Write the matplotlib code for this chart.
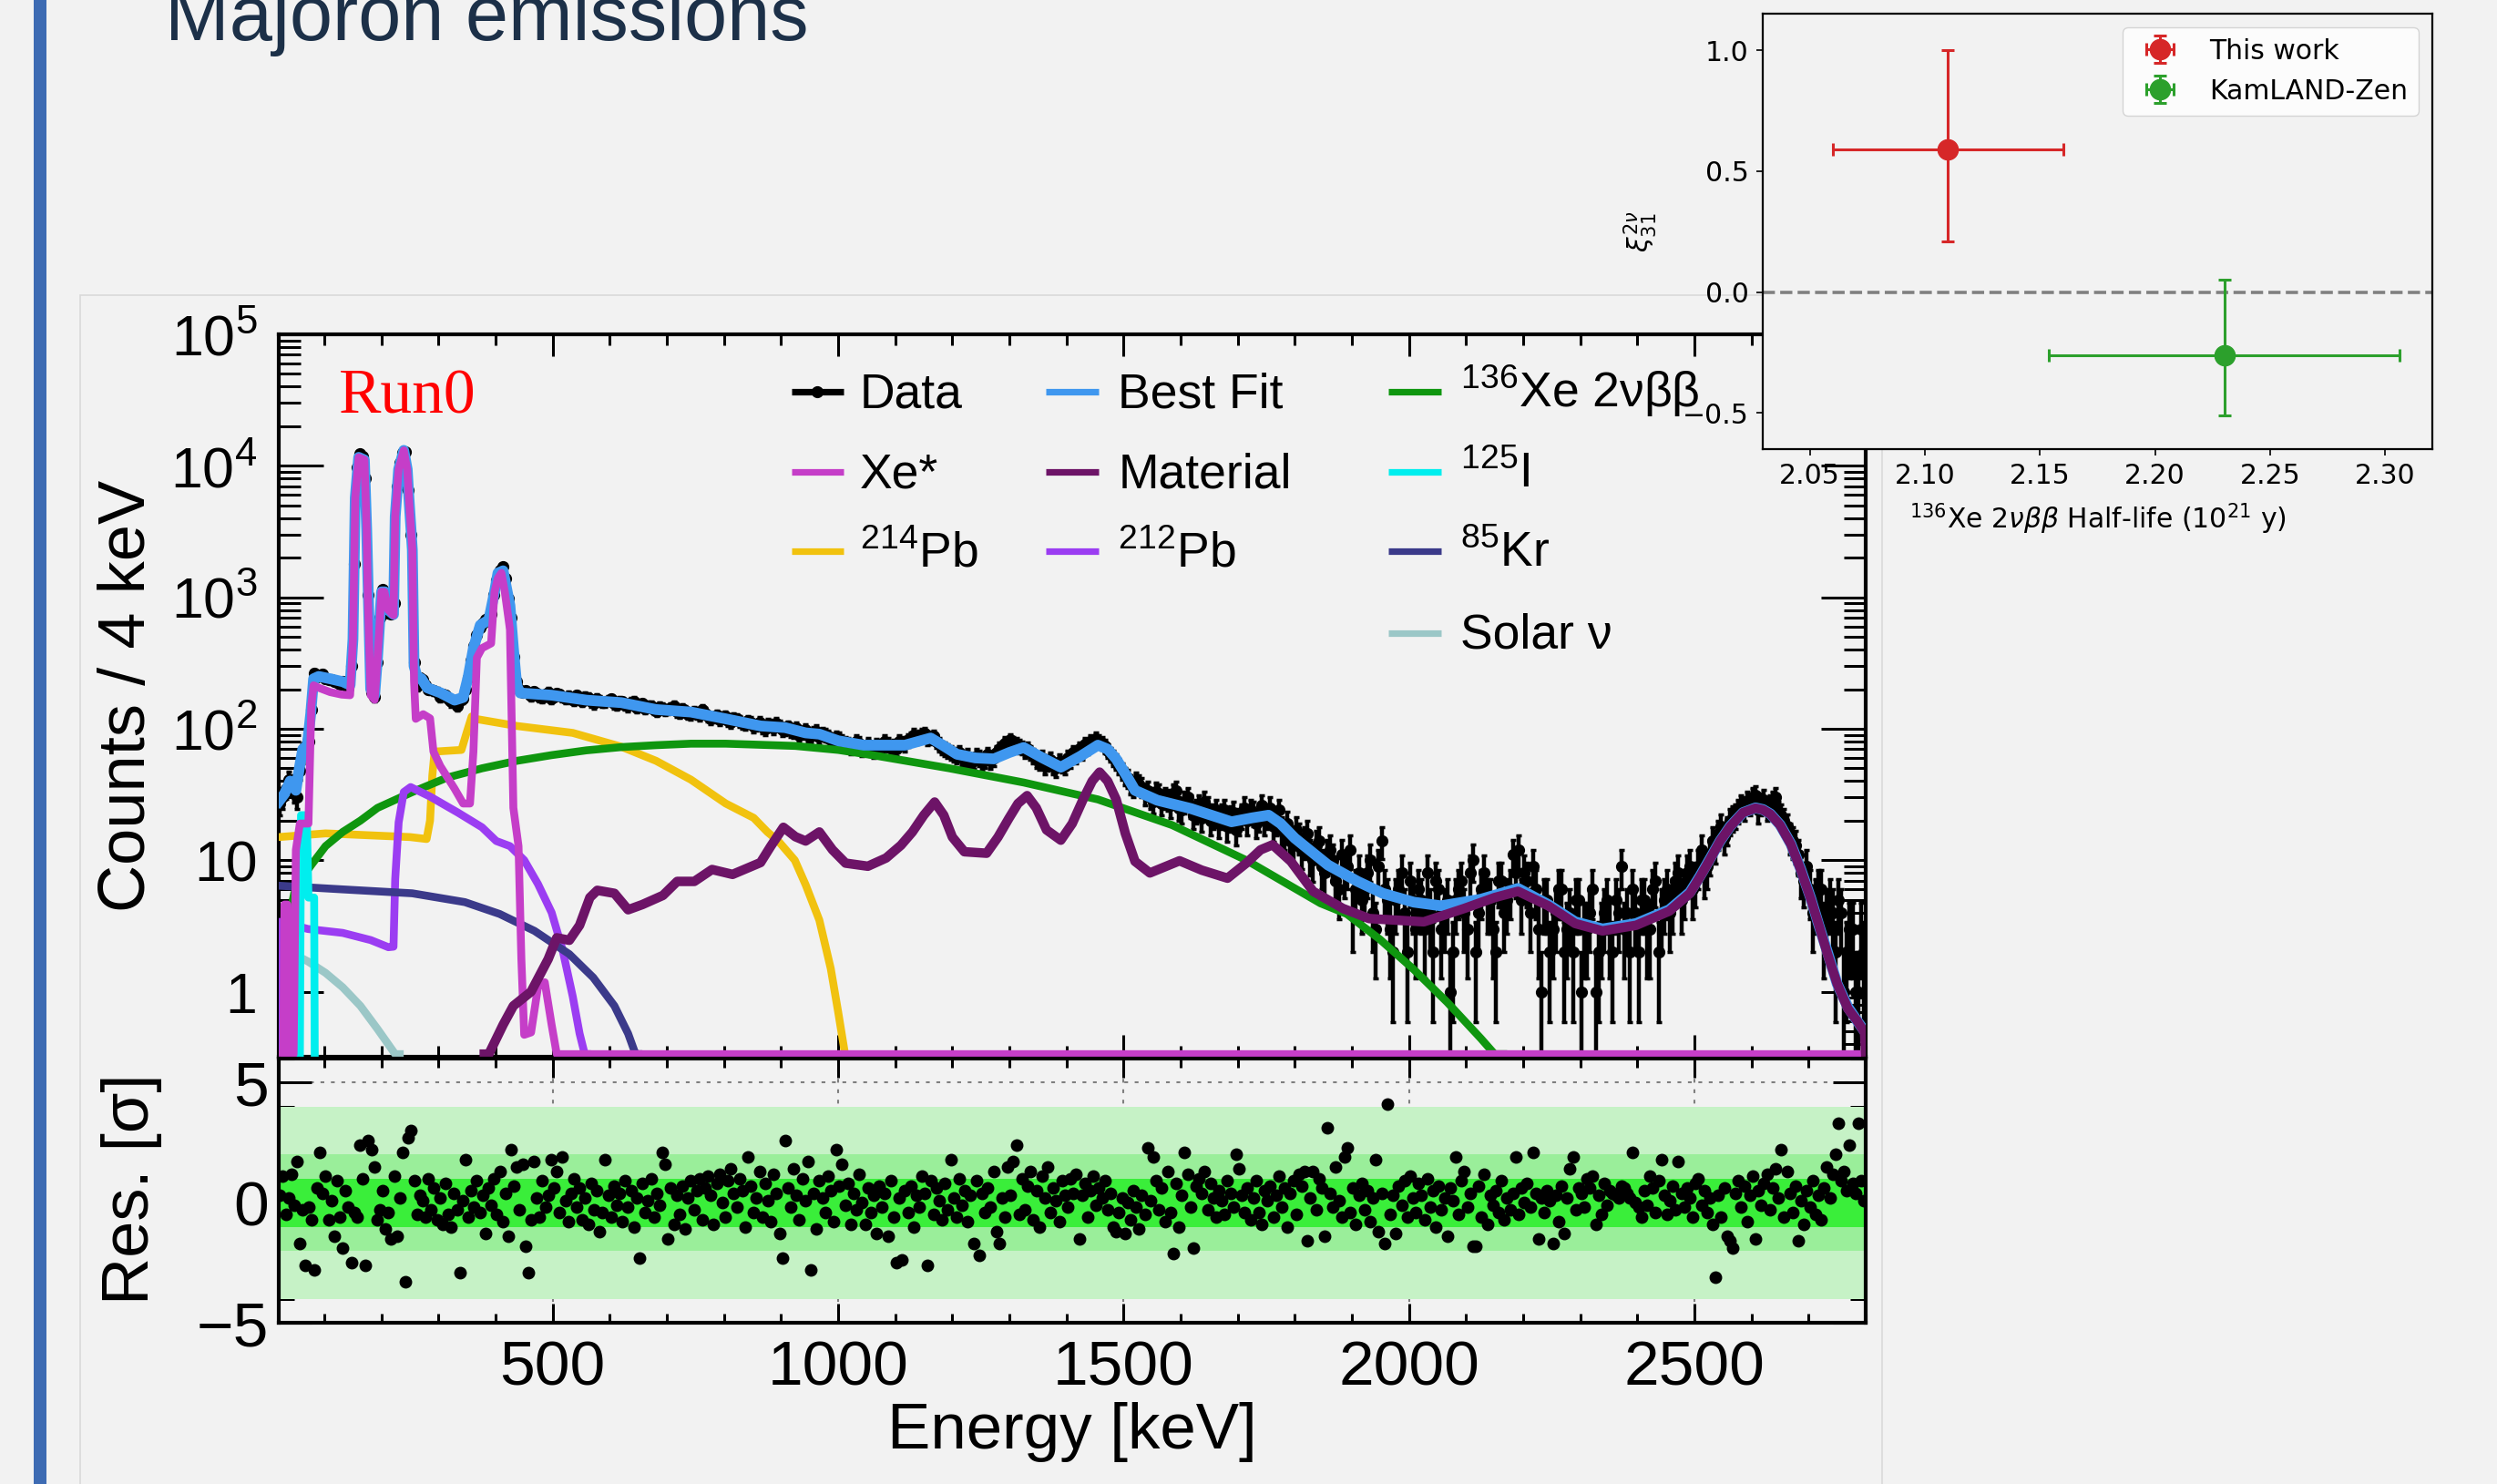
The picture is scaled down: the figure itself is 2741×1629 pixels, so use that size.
import numpy as np
import matplotlib
matplotlib.use("Agg")
import matplotlib.pyplot as plt
from matplotlib.patches import Rectangle
from matplotlib.ticker import (FixedLocator, FixedFormatter, MultipleLocator,
                               LogLocator, NullFormatter)

plt.rcParams['font.family'] = ['Liberation Sans', 'DejaVu Sans']
plt.rcParams['mathtext.fontset'] = 'custom'
plt.rcParams['mathtext.rm'] = 'Liberation Sans'
plt.rcParams['mathtext.it'] = 'Liberation Sans:italic'
plt.rcParams['mathtext.bf'] = 'Liberation Sans:bold'

W, H = 2741, 1629
BG = '#f2f2f2'
FLOOR = 0.335          # ROOT draws empty bins along the bottom of the pad

# ---------- spectrum (Run0): counts / 4 keV ----------
# bins at 22, 32, 42, ... keV
data_counts = [
    27, 35, 38, 30, 62, 80, 265, 255, 240, 235,
    225, 228, 205, 1800, 12400, 8000, 190, 320, 1150, 760,
    900, 10500, 12800, 3000, 210, 235, 200, 195, 175, 180,
    160, 150, 170, 245, 430, 590, 680, 750, 1350, 1720,
    980, 350, 200, 195, 178, 185, 172, 190, 176, 183,
    170, 168, 180, 162, 172, 155, 165, 160, 168, 152,
    160, 148, 162, 150, 142, 150, 136, 145, 140, 150,
    132, 138, 128, 130, 140, 125, 122, 118, 125, 112,
    119, 110, 115, 104, 112, 100, 106, 110, 98, 104,
    95, 90, 99, 88, 96, 92, 88, 80, 84, 78,
    72, 80, 70, 76, 68, 74, 80, 72, 70, 78,
    82, 90, 88, 92, 86, 80, 72, 68, 64, 66,
    58, 54, 62, 55, 64, 60, 70, 78, 82, 76,
    72, 70, 62, 56, 52, 58, 50, 54, 60, 66,
    70, 76, 80, 84, 78, 68, 60, 52, 44, 38,
    40, 36, 34, 28, 32, 30, 26, 34, 24, 30,
    22, 26, 28, 20, 24, 22, 18, 23, 20, 25,
    24, 19, 26, 22, 18, 24, 16, 14, 17, 12,
    16, 10, 14, 8, 12, 7, 11, 9, 4, 8,
    6, 10, 3, 14, 5, 2, 6, 4, 7, 3,
    5, 8, 2, 6, 4, 1, 5, 7, 3, 10,
    4, 8, 5, 2, 7, 5, 11, 12, 8, 4,
    6, 1, 5, 3, 6, 2, 4, 5, 1, 3,
    6, 2, 4, 3, 5, 9, 4, 6, 2, 5,
    3, 7, 4, 6, 5, 8, 6, 9, 7, 12,
    9, 14, 16, 15, 20, 22, 26, 28, 30, 24,
    29, 26, 30, 22, 18, 14, 11, 7, 6, 5,
    6, 4, 4, 5, 1, 3, 1, 3,
]
# bins at 27, 37, 47, ... keV
data_counts_odd = [
    30, 41, 33, 48, 74, 140, 250, 262, 238, 230,
    220, 215, 300, 9800, 11800, 1050, 175, 700, 1080, 750,
    7000, 12500, 6500, 320, 245, 215, 198, 190, 182, 168,
    162, 165, 200, 330, 520, 640, 700, 1050, 1600, 1400,
    700, 230, 190, 185, 192, 175, 182, 170, 186, 174,
    178, 165, 170, 175, 160, 170, 158, 164, 155, 162,
    152, 158, 145, 155, 148, 140, 146, 138, 144, 135,
    142, 130, 136, 126, 132, 120, 126, 122, 115, 121,
    114, 108, 112, 107, 103, 108, 101, 105, 100, 97,
    101, 93, 90, 94, 86, 90, 83, 86, 80, 76,
    74, 78, 72, 70, 75, 71, 76, 74, 80, 76,
    84, 86, 90, 84, 88, 76, 70, 66, 62, 60,
    62, 57, 60, 58, 57, 66, 72, 74, 78, 74,
    68, 66, 58, 60, 55, 52, 56, 52, 58, 62,
    66, 72, 78, 80, 74, 64, 56, 48, 42, 36,
    38, 32, 30, 33, 27, 29, 32, 25, 28, 26,
    24, 21, 25, 22, 19, 24, 21, 17, 22, 20,
    23, 21, 20, 25, 20, 17, 19, 13, 15, 14,
    11, 13, 9, 11, 10, 6, 8, 12, 6, 5,
    8, 4, 9, 6, 3, 5, 8, 2, 5, 6,
    3, 4, 7, 3, 5, 2, 6, 4, 8, 2,
    6, 5, 3, 7, 4, 6, 8, 5, 7, 9,
    3, 5, 2, 4, 6, 3, 2, 5, 3, 4,
    1, 3, 5, 2, 4, 3, 2, 4, 5, 3,
    6, 2, 5, 4, 7, 5, 8, 6, 9, 8,
    11, 13, 18, 17, 21, 24, 25, 27, 31, 27,
    25, 28, 23, 20, 15, 13, 8, 9, 4, 6,
    3, 5, 2, 4, 2, 3, 1, 2,
]

# ---------- residuals [sigma], one point every 5 keV from 22 keV ----------
residuals = [
    0.3, 1.1, -0.5, 0.2, 1.2, -0.1, 1.7, -1.7, -0.3, -2.6, -0.2, -0.7, -2.8, 0.6, 2.1, 0.4, 1.1, -0.7, 0.1, -1.4,
    0.9, -0.6, -1.9, 0.5, -0.2, -2.5, -0.4, -0.6, 2.4, 1.0, -2.6, 2.6, 2.2, 1.5, -0.7, -0.3, 0.5, -1.1, -0.4, -1.5,
    1.1, -1.4, 0.2, 2.1, -3.3, 2.7, 3.0, 0.9, -0.5, 0.3, 0.1, -0.6, 1.0, -0.3, 0.6, -0.7, 0.2, -0.9, 0.8, -0.5,
    -1.0, 0.4, -0.3, -2.9, 0.1, 1.8, -0.6, 0.5, -0.2, 0.9, -0.4, 0.3, -1.3, 0.6, -0.1, 1.0, -0.5, 1.3, -0.8, 0.4,
    -1.4, 2.2, 0.7, 1.5, -0.3, 1.6, -1.8, -2.9, -0.7, 1.7, 0.2, -0.6, 0.9, -0.2, 0.3, 1.8, 0.6, 1.3, -0.4, 1.9,
    0.1, -0.8, 0.4, 1.0, -0.2, 0.6, -0.7, 0.2, -0.9, 0.8, -0.3, 0.5, -1.2, -0.4, 1.8, 0.3, -0.6, 0.7, -0.1, 0.4,
    -0.8, 0.9, -0.2, 0.5, -1.0, 0.2, -2.3, 0.8, -0.4, 0.1, 1.0, -0.6, 0.4, -0.1, 2.1, 1.6, -1.5, 0.6, -0.9, 0.3,
    -0.5, 0.7, -1.1, 0.2, 0.9, -0.3, 0.5, 1.0, -0.7, 0.6, 1.1, 0.3, -0.9, 0.8, 1.2, 0.0, -0.6, 0.9, 1.4, 0.4,
    -0.2, 1.0, 0.5, -1.0, 1.9, 0.7, -0.4, 0.2, 1.3, -0.6, 0.8, 0.1, -0.8, 1.2, 0.4, -1.3, -2.3, 2.6, 0.6, -0.2,
    1.4, 0.3, -0.7, 1.0, 0.1, 1.7, -2.8, 0.4, -1.1, 0.9, 0.2, -0.4, 1.1, 0.5, -0.8, 2.2, 0.7, 1.6, -0.1, 0.8,
    -0.9, 0.4, -0.3, 1.2, 0.0, -0.9, 0.6, -0.4, 0.3, -1.3, 0.7, -0.2, 0.4, -1.4, 0.9, -0.6, -2.5, 0.2, -2.4, 0.5,
    -0.4, 0.7, -1.0, 0.3, -0.2, 1.1, 0.4, -2.6, 0.9, -0.5, 0.6, 0.1, -0.7, 0.8, -0.3, 1.8, 0.2, -0.6, 1.0, -0.1,
    0.5, -0.8, 0.3, -1.7, 0.9, -2.2, 0.4, -0.4, 0.6, -0.2, 1.3, -1.2, -1.7, 0.2, -0.6, 1.5, 0.3, 1.7, 2.4, -0.5,
    1.0, -0.3, 0.7, 1.3, -0.7, 0.5, -1.0, 1.1, 0.2, 1.5, -0.4, 0.6, 0.1, -0.8, 0.9, 0.3, -0.2, 1.0, 0.4, 1.2,
    -1.5, 0.3, 0.8, -0.6, 0.5, 1.1, -0.1, 0.6, 0.2, 0.9, -0.3, 0.4, -1.0, -1.2, -0.4, 0.2, -1.3, 0.0, -0.7, 0.5,
    -0.2, -1.1, 0.3, -0.5, 2.3, 0.1, 1.9, 0.9, -0.3, 0.6, -0.8, 1.3, -0.4, -2.1, 0.8, -1.0, 0.3, 2.1, 1.2, -0.2,
    -1.9, 0.7, 1.0, 0.4, 1.3, -0.3, 0.8, 0.2, -0.6, 0.5, 0.1, -0.5, 0.9, 0.4, -0.2, 2.0, 1.4, 0.3, -0.4, 0.6,
    -0.7, 0.2, 0.9, -0.4, -0.9, 0.5, 0.1, 0.7, -0.6, 0.3, 1.1, -0.2, 0.6, -1.0, 0.4, 0.9, -0.5, 1.2, 0.7, 1.3,
    -1.6, 0.2, 1.3, -0.3, 1.0, 0.6, -1.4, 3.1, 0.4, -0.2, 1.5, 0.1, -0.6, 1.9, 2.3, -0.4, 0.6, -0.9, 0.3, 0.8,
    -0.3, 0.5, -0.8, 0.2, 1.8, -1.2, 0.4, -1.7, 4.1, -0.5, 0.3, -1.3, 0.7, -0.1, 0.9, -0.6, 1.1, 0.2, -0.4, 0.8,
    0.3, -0.7, 1.0, -0.2, 0.5, -1.0, 0.7, -0.3, 0.2, -1.4, 0.6, 0.1, 1.9, -0.5, 0.9, 1.3, -0.2, 0.4, -1.8, -1.8,
    0.7, -0.6, 1.2, -0.9, 0.3, -0.1, 0.5, -0.4, 0.9, -0.7, 0.2, -0.3, 0.4, 1.9, -0.5, 0.6, 0.0, 0.8, -0.2, 2.1,
    0.4, -1.5, 0.2, -0.4, 0.5, 0.1, -1.7, 0.3, -0.8, 0.7, -1.3, 0.2, 1.4, 1.9, -0.3, 0.6, 0.4, -0.2, 1.0, 0.6,
    1.1, -0.9, 0.3, -0.5, 0.8, -0.1, 0.5, 0.4, 0.3, 0.2, 0.7, 0.6, 0.4, 0.2, 2.1, 0.0, -0.2, -0.6, 0.5, -0.1,
    1.1, 0.6, -0.4, 0.9, 1.8, 0.3, -0.5, 0.1, 0.7, -0.3, 1.7, 0.4, -0.2, 0.6, 0.2, -0.6, 0.8, 1.0, -0.1, 0.5,
    -0.4, 0.2, -0.9, -3.1, 0.3, -0.6, 0.6, -1.4, -1.6, -1.9, 0.4, 0.9, -0.2, 0.7, -0.8, 0.3, 1.1, -1.5, 0.5, -0.1,
    0.8, 1.2, -0.3, 0.6, 1.4, 0.2, 2.2, -0.6, 1.3, 0.4, -0.4, 0.7, -1.6, 0.1, -0.9, 0.5, -0.2, 0.9, -0.5, 0.3,
    -0.7, 0.6, 1.5, 0.2, 1.2, 2.0, 3.3, 0.9, 1.3, 0.5, 2.4, 0.8, 0.4, 3.3, 0.9, 0.1,
]

# ---------- fit components, (energy keV, counts / 4 keV) ----------
best_fit = [
    (20, 28), (30, 32), (40, 40), (50, 34), (56, 50), (62, 70), (70, 75), (76, 130), (81, 240),
    (90, 250), (110, 240), (132, 228), (145, 215), (150, 480), (154, 5700), (160, 11600),
    (170, 11100), (174, 3300), (177, 1000), (181, 200), (188, 180), (193, 350), (200, 1100),
    (206, 1100), (212, 800), (221, 740), (224, 4100), (230, 9400), (239, 13100), (245, 9400),
    (248, 5700), (254, 2300), (257, 300), (262, 250), (270, 240), (280, 205), (303, 188),
    (328, 165), (343, 173), (352, 250), (361, 410), (373, 614), (388, 673), (398, 1100),
    (404, 1530), (413, 1590), (425, 863), (431, 410), (437, 212), (443, 187), (498, 180),
    (559, 165), (620, 158), (681, 140), (742, 134), (803, 119), (864, 105), (907, 102),
    (943, 93), (967, 91), (1000, 81), (1045, 75), (1117, 75), (1140, 80), (1162, 85),
    (1185, 74), (1208, 64), (1240, 60), (1273, 59), (1300, 66), (1325, 72), (1358, 60),
    (1390, 51), (1425, 62), (1455, 75), (1472, 70), (1487, 59), (1505, 44), (1520, 34),
    (1559, 28.6), (1618, 24.7), (1689, 19.6), (1725, 21), (1754, 22), (1775, 19),
    (1800, 14.7), (1858, 9.2), (1910, 6.9), (1954, 5.6), (2008, 4.8), (2056, 4.5),
    (2126, 5.05), (2191, 6.1), (2244, 4.6), (2291, 3.4), (2339, 3.0), (2398, 3.3),
    (2456, 4.2), (2492, 5.7), (2510, 7.6), (2527, 10.2), (2545, 14), (2563, 18.2),
    (2585, 23), (2607, 25), (2620, 24.3), (2633, 22.5), (2650, 18.6), (2669, 13.3),
    (2686, 8.6), (2704, 5.1), (2718, 3.2), (2733, 2.0), (2750, 1.15), (2769, 0.76),
    (2785, 0.6), (2798, 0.5),
]
xe_star = [
    (22, 0.2), (28, 0.2), (30, 4.6), (35, 4.6), (38, 0.2), (46, 0.2), (50, 12), (57, 19),
    (72, 19), (77, 150), (81, 214), (90, 205), (110, 190), (130, 182), (145, 180), (150, 480),
    (154, 5700), (160, 11600), (170, 11100), (174, 3260), (176, 1016), (181, 180), (188, 166),
    (193, 347), (200, 1100), (205, 1100), (212, 800), (221, 730), (224, 4130), (230, 9400),
    (239, 13100), (245, 9400), (248, 5700), (254, 2320), (257, 230), (260, 119), (273, 129),
    (285, 120), (291, 67), (303, 52), (328, 35), (343, 27), (355, 27), (361, 67), (367, 347),
    (376, 410), (392, 446), (398, 1100), (404, 1400), (410, 1530), (416, 1100), (425, 570),
    (431, 25), (440, 12.8), (445, 1.77), (450, 0.47), (462, 0.49), (474, 1.08), (486, 1.18),
    (498, 0.56), (507, 0.2), (2800, 0.2),
]
pb214 = [
    (20, 15), (102, 16), (250, 15), (279, 14.5), (285, 20), (289, 44), (293, 67), (340, 69),
    (349, 93), (358, 124), (364, 119), (437, 105), (535, 93), (620, 73), (681, 57), (742, 41),
    (803, 27), (852, 21), (876, 16.4), (895, 14), (924, 10), (943, 6.5), (967, 3.5),
    (987, 1.5), (1000, 0.7), (1012, 0.3),
]
xe136_2vbb = [
    (40, 0.2), (42, 4.4), (47, 5.6), (65, 7.8), (77, 9.2), (102, 12.8), (132, 16.4), (163, 20),
    (193, 25), (254, 33), (315, 42.5), (376, 50), (437, 57), (498, 63), (559, 68.5),
    (620, 72.5), (681, 75), (742, 77), (803, 77), (864, 75.5), (925, 74), (1000, 69),
    (1065, 62.5), (1195, 50), (1325, 39), (1455, 29), (1585, 18.5), (1715, 10), (1845, 4.7),
    (1891, 3.9), (1949, 2.5), (2008, 1.48), (2067, 0.83), (2126, 0.44), (2150, 0.32),
    (2165, 0.2),
]
pb212 = [
    (20, 0.2), (21, 3.4), (47, 3.2), (71, 3.0), (132, 2.8), (181, 2.47), (212, 2.18), (221, 2.2),
    (224, 7.2), (230, 19.4), (239, 33), (251, 36), (285, 30.5), (334, 23), (376, 17.8),
    (401, 14), (425, 12.8), (450, 10), (474, 6.6), (498, 4.0), (517, 2.1), (535, 0.92),
    (547, 0.48), (556, 0.3), (560, 0.2),
]
kr85 = [
    (20, 6.4), (132, 6.0), (254, 5.6), (346, 4.8), (407, 3.9), (468, 2.9), (529, 1.93),
    (571, 1.28), (608, 0.78), (632, 0.48), (645, 0.3), (650, 0.2),
]
solar_nu = [
    (38, 0.2), (40, 2.0), (71, 1.7), (102, 1.39), (132, 1.08), (163, 0.78), (193, 0.52),
    (224, 0.29), (232, 0.2),
]
i125 = [(57, 0.2), (59, 22), (69, 22), (72, 5.2), (82, 5.2), (83, 0.2)]
material = [
    (380, 0.2), (388, 0.3), (413, 0.56), (431, 0.78), (462, 1.0), (492, 1.77), (507, 2.57),
    (529, 2.46), (547, 3.2), (565, 5.2), (578, 5.9), (608, 5.6), (632, 4.2), (657, 4.6),
    (693, 5.4), (718, 6.9), (748, 6.9), (779, 8.5), (815, 7.8), (864, 9.6), (882, 12.8),
    (904, 17.8), (925, 15.1), (943, 14), (967, 16.4), (990, 12), (1013, 9.5), (1052, 9),
    (1084, 10.4), (1110, 13), (1130, 16.4), (1150, 22), (1169, 27.7), (1185, 22), (1200, 15),
    (1221, 11.6), (1260, 11.3), (1280, 15), (1299, 20.8), (1315, 27), (1331, 31), (1347, 25),
    (1365, 17), (1390, 14.2), (1410, 19), (1429, 29), (1445, 40), (1458, 46.8), (1472, 40),
    (1487, 29), (1503, 16), (1520, 9.8), (1546, 8.0), (1598, 9.9), (1637, 8.4), (1682, 7.3),
    (1715, 9.5), (1740, 12), (1761, 13.1), (1793, 9.8), (1832, 5.8), (1884, 4.3), (1930, 3.6),
    (2026, 3.4), (2097, 4.3), (2150, 5.2), (2191, 5.8), (2244, 4.5), (2291, 3.3), (2339, 2.9),
    (2398, 3.2), (2456, 4.1), (2492, 5.6), (2510, 7.5), (2527, 10.1), (2545, 14), (2563, 18.1),
    (2585, 23), (2607, 24.9), (2620, 24.2), (2633, 22.4), (2650, 18.5), (2669, 13.2),
    (2686, 8.5), (2704, 5.05), (2718, 3.2), (2733, 1.94), (2750, 1.15), (2769, 0.74),
    (2785, 0.6), (2798, 0.49), (2800, 0.2),
]

# ---------- inset: 2vbb half-life vs xi_31 ----------
experiments = ['This work', 'KamLAND-Zen']
half_life = [2.11, 2.23]
half_life_err = [0.05, 0.076]
xi31 = [0.59, -0.26]
xi31_err_lo = [0.38, 0.25]
xi31_err_hi = [0.41, 0.31]
exp_colors = ['#d62728', '#2ca02c']

# (label, colour, knots, line width, zorder)
components = [
    ('$^{214}$Pb', '#f1c20f', pb214, 6.2, 3.0),
    ('$^{136}$Xe 2\u03bd\u03b2\u03b2', '#0f960f', xe136_2vbb, 6.2, 3.1),
    ('$^{212}$Pb', '#9b3df2', pb212, 6.2, 3.2),
    ('$^{85}$Kr', '#3b3a8a', kr85, 6.2, 3.3),
    ('Solar \u03bd', '#9bc7c7', solar_nu, 6.2, 3.4),
    ('$^{125}$I', '#00eeee', i125, 6.2, 3.5),
    ('Best Fit', '#3f97ef', best_fit, 8.5, 3.6),
    ('Xe*', '#c53ec8', xe_star, 6.2, 3.7),
    ('Material', '#6d1467', material, 7.5, 3.8),
]
colour_of = {c[0]: c[1] for c in components}


def px_box(left, top, right, bottom):
    return [left / W, 1 - bottom / H, (right - left) / W, (bottom - top) / H]


fig = plt.figure(figsize=(W / 100, H / 100), dpi=100, facecolor=BG)

# ---------- slide decoration (kept beneath all axes) ----------
fig.add_artist(Rectangle((37 / W, 0), 14 / W, 1, transform=fig.transFigure,
                         color='#3d6bb3', lw=0, zorder=-2))
fig.add_artist(Rectangle((88 / W, -0.05), (2066 - 88) / W, (H - 324) / H + 0.05,
                         transform=fig.transFigure, fill=False, edgecolor='#d9d9d9',
                         lw=1.2, zorder=-2))
fig.text(181 / W, 1 - 44 / H, 'Majoron emissions', fontsize=61, color='#1c3048',
         ha='left', va='baseline')

# ---------- main spectrum ----------
ax = fig.add_axes(px_box(306, 367, 2048, 1160), facecolor=BG)
ax.set_yscale('log')

data_energy = np.concatenate([22 + 10 * np.arange(len(data_counts)),
                              27 + 10 * np.arange(len(data_counts_odd))])
counts = np.array(data_counts + data_counts_odd, dtype=float)
err = np.sqrt(counts)
err_lo = np.minimum(err, counts * 0.999)
ax.errorbar(data_energy, counts, yerr=[err_lo, err], xerr=2, fmt='o', color='black',
            ms=8.5, ecolor='black', elinewidth=3.2, capsize=2.5, capthick=2.5,
            zorder=2)

for label, colour, knots, lw, z in components:
    e, v = np.array(knots, dtype=float).T
    ax.plot(e, np.clip(v, FLOOR, None), color=colour, lw=lw, zorder=z)

ax.set_xlim(20, 2800)
ax.set_ylim(0.32, 1e5)
ax.yaxis.set_major_locator(FixedLocator([1, 10, 1e2, 1e3, 1e4, 1e5]))
ax.yaxis.set_major_formatter(FixedFormatter(['1', '10', '$10^{2}$', '$10^{3}$',
                                             '$10^{4}$', '$10^{5}$']))
ax.yaxis.set_minor_locator(LogLocator(base=10, subs=np.arange(2, 10), numticks=20))
ax.yaxis.set_minor_formatter(NullFormatter())
ax.xaxis.set_major_locator(MultipleLocator(500))
ax.xaxis.set_minor_locator(MultipleLocator(100))
ax.tick_params(which='both', direction='in', top=True, right=True, width=2.2,
               labelbottom=False)
ax.tick_params(axis='x', which='major', length=17)
ax.tick_params(axis='x', which='minor', length=8.5)
ax.tick_params(axis='y', which='major', length=35, labelsize=45, pad=17)
ax.tick_params(axis='y', which='minor', length=17)
for sp in ax.spines.values():
    sp.set_linewidth(3)

ax.text(0.038, 0.891, 'Run0', transform=ax.transAxes, fontsize=50, color='red',
        family='Liberation Serif', va='baseline')

# hand-placed ROOT style legend: three columns
legend_rows = [0.9205, 0.810, 0.700, 0.587]
legend_cols = [(0.323, 0.356, 0.366), (0.4836, 0.5167, 0.5288), (0.699, 0.7326, 0.7445)]
legend_layout = [
    ['Data', 'Xe*', '$^{214}$Pb'],
    ['Best Fit', 'Material', '$^{212}$Pb'],
    ['$^{136}$Xe 2\u03bd\u03b2\u03b2', '$^{125}$I', '$^{85}$Kr', 'Solar \u03bd'],
]
for col, names in enumerate(legend_layout):
    x0, x1, xt = legend_cols[col]
    for row, name in enumerate(names):
        y = legend_rows[row]
        colour = 'black' if name == 'Data' else colour_of[name]
        ax.plot([x0, x1], [y, y], color=colour, lw=5.2, transform=ax.transAxes,
                clip_on=False, zorder=6, solid_capstyle='butt')
        if name == 'Data':
            ax.plot([(x0 + x1) / 2], [y], 'o', color='black', ms=8.5,
                    transform=ax.transAxes, clip_on=False, zorder=6)
        ax.text(xt, y - 0.022, name, transform=ax.transAxes, fontsize=38.5,
                va='baseline', ha='left', zorder=6)

fig.text(140 / W, 1 - 764 / H, 'Counts / 4 keV', rotation=90, fontsize=52,
         ha='center', va='center')

# ---------- residual panel ----------
axr = fig.add_axes(px_box(306, 1162, 2048, 1452), facecolor=BG)
axr.set_axisbelow(True)
axr.axhspan(-4, 4, color='#c6f2c6', lw=0, zorder=1)
axr.axhspan(-2, 2, color='#9aee9a', lw=0, zorder=1.1)
axr.axhspan(-1, 1, color='#3aee3a', lw=0, zorder=1.2)
res_energy = 22 + 5 * np.arange(len(residuals))
axr.plot(res_energy, residuals, 'o', color='black', ms=9, zorder=3)
axr.grid(True, which='major', color='#7f7f7f', lw=1.5, linestyle=(0, (2, 3.5)))

axr.set_xlim(20, 2800)
axr.set_ylim(-5, 6)
axr.yaxis.set_major_locator(FixedLocator([-5, 0, 5]))
axr.yaxis.set_minor_locator(MultipleLocator(1))
axr.xaxis.set_major_locator(MultipleLocator(500))
axr.xaxis.set_minor_locator(MultipleLocator(100))
axr.tick_params(which='both', direction='in', top=True, right=True, width=2.2,
                labelsize=50)
axr.tick_params(axis='x', which='major', length=15, pad=13)
axr.tick_params(axis='x', which='minor', length=7)
axr.tick_params(axis='y', which='major', length=26, pad=8)
axr.tick_params(axis='y', which='minor', length=12)
for sp in axr.spines.values():
    sp.set_linewidth(3)

fig.text(145 / W, 1 - 1305 / H, 'Res. [\u03c3]', rotation=90, fontsize=52,
         ha='center', va='center')
fig.text(1177 / W, 1 - 1590 / H, 'Energy [keV]', fontsize=51, ha='center',
         va='baseline')

# ---------- inset ----------
ins = fig.add_axes(px_box(1935, 15, 2670, 493), facecolor=BG)
ins.axhline(0, color='gray', ls='--', lw=2.6, zorder=1)
for i, name in enumerate(experiments):
    ins.errorbar(half_life[i], xi31[i], xerr=half_life_err[i],
                 yerr=[[xi31_err_lo[i]], [xi31_err_hi[i]]], fmt='o',
                 color=exp_colors[i], ms=16, elinewidth=2.2, capsize=5,
                 capthick=2.2, label=name, zorder=3)
ins.set_xlim(2.0296, 2.3204)
ins.set_ylim(-0.65, 1.152)
ins.set_xticks([2.05, 2.10, 2.15, 2.20, 2.25, 2.30])
ins.set_yticks([-0.5, 0.0, 0.5, 1.0])
ins.tick_params(labelsize=21.5, length=5, width=1.2, pad=6,
                labelfontfamily='DejaVu Sans')
for sp in ins.spines.values():
    sp.set_linewidth(1.6)
ins.set_xlabel('$^{136}$Xe 2$\\nu\\beta\\beta$ Half-life (10$^{21}$ y)', fontsize=21.5,
               family='DejaVu Sans', math_fontfamily='dejavusans')
ins.set_ylabel('$\\xi_{31}^{2\\nu}$', fontsize=21.5, family='DejaVu Sans',
               math_fontfamily='dejavusans')
ins.xaxis.set_label_coords(0.5, -0.12)
ins.yaxis.set_label_coords(-0.155, 0.5)
ins.legend(loc='upper right', prop={'family': 'DejaVu Sans', 'size': 21.5},
           edgecolor='#cccccc', framealpha=0.8)

fig.savefig('out.png', dpi=100, facecolor=BG)
